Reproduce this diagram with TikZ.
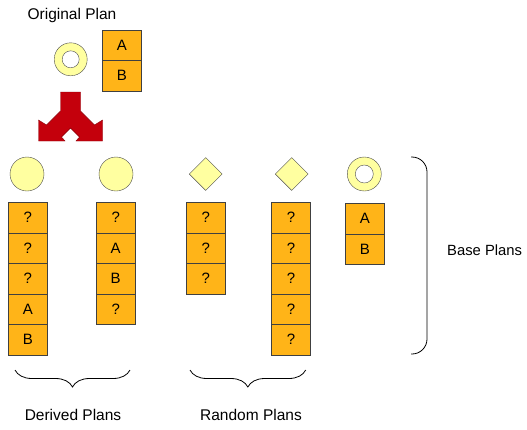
\documentclass[tikz,border=0pt]{standalone}
\usepackage{fontspec}
\setmainfont{Liberation Sans}
\usepackage{tikz}
\usetikzlibrary{shapes.geometric,decorations.pathreplacing}
\definecolor{planorange}{HTML}{FFB418}
\definecolor{planyellow}{HTML}{FFFFA0}
\definecolor{arrowred}{HTML}{C4000C}
\tikzset{
  cell/.style={draw=black!75, fill=planorange, minimum width=39pt, minimum height=30.5pt, inner sep=0pt, font=\fontsize{15}{15}\selectfont},
  known/.style={circle, draw=black!70, fill=planyellow, minimum size=34pt, inner sep=0pt},
  hole/.style={circle, draw=black!70, fill=white, minimum size=18pt, inner sep=0pt},
  guess/.style={diamond, draw=black!70, fill=planyellow, minimum size=33pt, inner sep=0pt},
  caption/.style={anchor=base, font=\fontsize{15.5}{16}\selectfont},
  curly/.style={decorate, decoration={brace, mirror, amplitude=17pt}, line width=0.8pt}
}

\begin{document}
\begin{tikzpicture}[x=1pt,y=-1pt]
\useasboundingbox (0,0) rectangle (527,429);
\node[caption] (origtitle) at (72,19.5) {Original Plan};
\node[known, minimum size=33pt] (origring) at (70.7,59.3) {};
\node[hole, minimum size=17pt] (orighole) at (70.7,59.3) {};
\node[cell] (orig-1) at (121.8,45.3) {A};
\node[cell] (orig-2) at (121.8,75.8) {B};
\filldraw[fill=arrowred, draw=arrowred!70!black, line width=0.4pt]
  (60.5,92) -- (80.5,92) -- (80.5,111) -- (94.5,125) -- (102.5,120) -- (102.5,141)
  -- (76,141) -- (79.5,137) -- (70.5,128) -- (61.5,137) -- (65,141) -- (38.5,141)
  -- (38.5,120) -- (46.5,125) -- (60.5,111) -- cycle;

\node[known] (derivedA) at (27,174) {};
\node[known] (derivedB) at (116,174) {};
\node[guess] (randomA) at (205.7,174) {};
\node[guess] (randomB) at (291.7,174) {};
\node[known] (basering) at (364.3,174) {};
\node[hole] (basehole) at (364.3,174) {};

\foreach \t [count=\i] in {?,?,?,A,B}
  \node[cell] (derivedA-\i) at (27.8,187+30.5*\i) {\t};
\foreach \t [count=\i] in {?,A,B,?}
  \node[cell] (derivedB-\i) at (115.7,187+30.5*\i) {\t};
\foreach \t [count=\i] in {?,?,?}
  \node[cell] (randomA-\i) at (205.8,187+30.5*\i) {\t};
\foreach \t [count=\i] in {?,?,?,?,?}
  \node[cell] (randomB-\i) at (291,187+30.5*\i) {\t};
\foreach \t [count=\i] in {A,B}
  \node[cell] (base-\i) at (364.8,188+30.5*\i) {\t};

\coordinate (derived-l) at (15,370);
\coordinate (derived-r) at (130,370);
\coordinate (random-l) at (190,370);
\coordinate (random-r) at (305.7,370);
\draw[curly] (derived-l) -- (derived-r);
\draw[curly] (random-l) -- (random-r);
\node[caption] (derivedtitle) at (73,420) {Derived Plans};
\node[caption] (randomtitle) at (251,420) {Random Plans};

\coordinate (base-t) at (411,157);
\coordinate (base-b) at (411,354);
\draw[line width=0.8pt, rounded corners=15pt] (base-t) -- (427,157) -- (427,354) -- (base-b);
\node[caption, anchor=base west, font=\fontsize{14.8}{16}\selectfont, inner sep=0pt] (basetitle) at (447,255) {Base Plans};
\end{tikzpicture}
\end{document}
